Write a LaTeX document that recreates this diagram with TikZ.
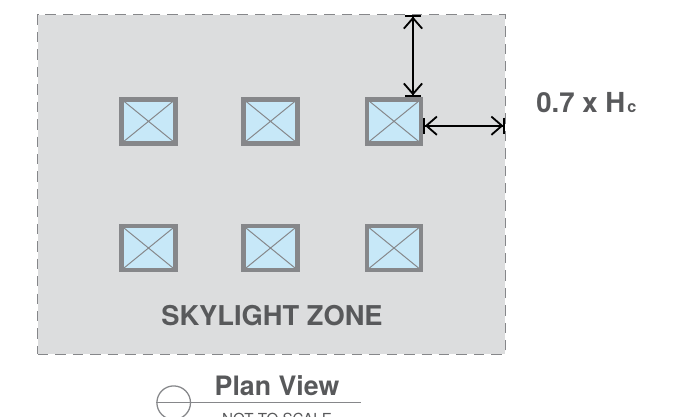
\documentclass[tikz,border=0pt]{standalone}
\usepackage{fontspec}
\setmainfont{TeX Gyre Heros}
\usetikzlibrary{arrows.meta}
\definecolor{zonegray}{HTML}{DCDDDE}
\definecolor{edgegray}{HTML}{86878A}
\definecolor{glassblue}{HTML}{C7E8F8}
\definecolor{labelgray}{HTML}{58595B}

\begin{document}
\begin{tikzpicture}[
    x=0.025cm, y=-0.025cm,
    zone/.style={draw=edgegray, fill=zonegray, line width=0.7pt, dash pattern=on 7.4pt off 5pt, minimum width=11.675cm, minimum height=8.475cm, inner sep=0},
    skylight/.style={draw=edgegray, fill=glassblue, line width=3.2pt, minimum width=1.35cm, minimum height=1.1cm, inner sep=0,
        path picture={\draw[edgegray, line width=0.7pt] (path picture bounding box.north west) -- (path picture bounding box.south east)
            (path picture bounding box.north east) -- (path picture bounding box.south west);}},
    dim/.style={{Bar[width=11.5pt,length=1pt]Straight Barb[length=7.5pt,width=13pt,line width=1.3pt]}-{Straight Barb[length=7.5pt,width=13pt,line width=1.3pt]Bar[width=11.5pt,length=1pt]}, line width=1.2pt},
    zonetext/.style={font=\bfseries\fontsize{19.4}{21}\selectfont, text=labelgray, inner sep=0},
    plantext/.style={font=\bfseries\fontsize{19}{21}\selectfont, text=labelgray, inner sep=0},
    dimtext/.style={font=\bfseries\fontsize{19.6}{21}\selectfont, text=labelgray, inner sep=0},
    small/.style={font=\fontsize{10.8}{12}\selectfont, text=labelgray, inner sep=0},
    marker/.style={circle, draw=edgegray, line width=0.9pt, minimum size=0.84cm, inner sep=0},
    rule/.style={draw=edgegray, line width=1.1pt},
]
\useasboundingbox (0,0) rectangle (681,416);
\clip (0,0) rectangle (681,416);

% --- Zone ---
\node[zone] (Z) at (271.5,184.5) {};

% --- Skylights ---
\node[skylight] (S1) at (148.5,121.3) {};
\node[skylight] (S2) at (270.5,121.3) {};
\node[skylight] (S3) at (394,121.3) {};
\node[skylight] (S4) at (148.5,248) {};
\node[skylight] (S5) at (270.5,248) {};
\node[skylight] (S6) at (394,248) {};

% --- Dimensions ---
\coordinate (T) at (413,15);
\coordinate (R) at (505,125.7);
\draw[dim] (T) -- (T |- S3.north);
\draw[dim] (S3.east |- R) -- (R);
\node[dimtext, anchor=base west] (D) at (536,112) {0.7 x H\kern1.5pt{\fontsize{11.5}{12}\selectfont c}};

\node[zonetext] (L) at (272,316) {SKYLIGHT ZONE};

% --- Title ---
\node[marker] (C) at (173.7,402.7) {};
\coordinate (E) at (361,402.7);
\draw[rule] (C.west) -- (E);
\node[plantext, anchor=base] (P) at (277,395) {Plan View};
\node[small, anchor=base] (N) at (277,424) {NOT TO SCALE};

\end{tikzpicture}
\end{document}
